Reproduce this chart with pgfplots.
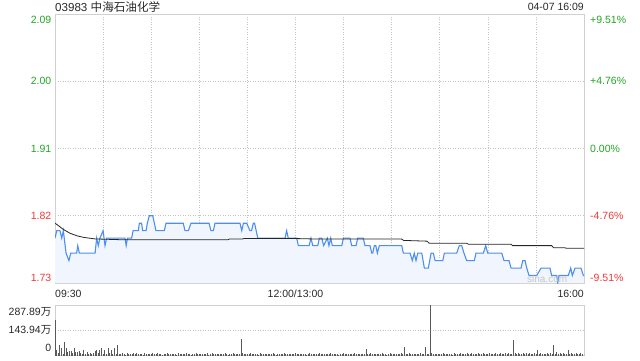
\documentclass[border=0pt]{standalone}
\usepackage{pgfplots}
\usepackage{pgfplotstable}
\pgfplotsset{compat=1.18}
\usepackage{fontspec}
\setmainfont{Liberation Sans}
\newfontfamily\cjk{Noto Sans CJK SC}
\definecolor{upgreen}{RGB}{34,165,34}
\definecolor{downred}{RGB}{240,56,56}
\definecolor{pblue}{RGB}{77,143,240}
\definecolor{pfill}{RGB}{241,246,254}
\definecolor{framegray}{RGB}{208,208,208}
\definecolor{gridgray}{RGB}{195,195,195}
\definecolor{txt}{RGB}{40,40,40}

\pgfplotstableread{
t p
0 1.79
1.1 1.80
3.1 1.80
4.2 1.79
5.2 1.80
6.9 1.77
8.7 1.76
9.8 1.77
13.5 1.77
14.2 1.78
15.2 1.77
25 1.77
26 1.79
27 1.78
28 1.79
30 1.80
31.2 1.78
32.2 1.79
43.7 1.79
44.4 1.78
45.2 1.79
47.8 1.79
48.7 1.80
52 1.80
52.6 1.81
54 1.81
54.7 1.80
56.8 1.80
57.6 1.81
58.8 1.82
61 1.82
63 1.80
68.2 1.80
69.2 1.81
80 1.81
81.1 1.80
83.2 1.80
84.8 1.81
96.1 1.81
97.3 1.80
98.8 1.80
99.8 1.81
115.4 1.81
116.5 1.80
117.5 1.81
119.6 1.81
121.6 1.80
122.6 1.80
123.7 1.81
124.5 1.81
126.5 1.79
143.5 1.79
144.5 1.80
145.5 1.79
150.8 1.79
151.8 1.78
158.5 1.78
159.7 1.79
160.8 1.78
163.9 1.78
164.9 1.79
166.4 1.79
167.6 1.78
169.9 1.79
170.9 1.78
172 1.79
173 1.78
178.9 1.78
179.9 1.79
184 1.79
185.1 1.78
187.8 1.78
188.8 1.79
192.3 1.79
193.4 1.78
196.5 1.78
197.6 1.77
198.2 1.77
199.2 1.78
200.1 1.78
201.1 1.77
202.3 1.78
216.3 1.78
217.3 1.77
221.5 1.77
222.9 1.76
224.1 1.77
225.2 1.76
226.3 1.77
228.8 1.77
230.4 1.75
232.9 1.75
234.6 1.77
236 1.77
237.1 1.76
241.9 1.76
242.9 1.77
250.6 1.77
252.2 1.78
253.7 1.78
255.1 1.77
256.8 1.76
261.6 1.76
262.6 1.77
267.2 1.77
268.7 1.78
269.9 1.77
278.7 1.77
280.1 1.76
283.2 1.76
284.5 1.75
290.7 1.75
291.8 1.76
293.2 1.76
294.3 1.75
295.7 1.74
300.5 1.74
303.2 1.75
308.8 1.75
309.8 1.74
313 1.74
313.6 1.73
314.4 1.74
320.2 1.74
321.7 1.75
322.7 1.74
324.4 1.75
328.1 1.75
329.6 1.74
330 1.74
}\pricetab

\pgfplotstableread{
t a
0 1.810
2 1.807
5 1.802
9.4 1.7965
14 1.793
18 1.791
25 1.789
40 1.788
108 1.788
109 1.789
117 1.789
118 1.7895
150 1.7895
160 1.789
216 1.789
217.5 1.787
232 1.786
233.5 1.7831
256.8 1.7831
258 1.7818
284.5 1.7818
285.5 1.780
309.8 1.780
311 1.7773
318 1.7773
319 1.7764
330 1.7764
}\avgtab

\pgfplotstableread[row sep=\\]{
v\\
204\\ 30\\ 18\\ 61\\ 44\\ 12\\ 80\\ 44\\ 20\\ 28\\
24\\ 15\\ 44\\ 22\\ 20\\ 25\\ 14\\ 10\\ 32\\ 12\\
23\\ 8\\ 14\\ 10\\ 18\\ 26\\ 32\\ 14\\ 30\\ 44\\
12\\ 32\\ 10\\ 44\\ 15\\ 32\\ 10\\ 44\\ 12\\ 61\\
12\\ 8\\ 15\\ 10\\ 6\\ 14\\ 9\\ 11\\ 7\\ 13\\
10\\ 16\\ 8\\ 12\\ 9\\ 6\\ 14\\ 10\\ 8\\ 11\\
9\\ 13\\ 7\\ 10\\ 15\\ 8\\ 12\\ 6\\ 10\\ 9\\
14\\ 8\\ 11\\ 7\\ 12\\ 10\\ 6\\ 13\\ 9\\ 8\\
11\\ 7\\ 14\\ 9\\ 10\\ 6\\ 12\\ 8\\ 15\\ 10\\
7\\ 12\\ 9\\ 11\\ 8\\ 13\\ 6\\ 10\\ 14\\ 9\\
8\\ 11\\ 7\\ 12\\ 10\\ 9\\ 15\\ 8\\ 6\\ 11\\
10\\ 13\\ 8\\ 9\\ 12\\ 7\\ 94\\ 14\\ 10\\ 8\\
11\\ 9\\ 13\\ 7\\ 10\\ 12\\ 8\\ 6\\ 14\\ 9\\
10\\ 8\\ 12\\ 7\\ 11\\ 9\\ 13\\ 10\\ 6\\ 12\\
9\\ 11\\ 8\\ 14\\ 7\\ 10\\ 12\\ 9\\ 8\\ 11\\
13\\ 8\\ 10\\ 7\\ 12\\ 9\\ 11\\ 6\\ 10\\ 14\\
8\\ 12\\ 9\\ 11\\ 7\\ 13\\ 10\\ 8\\ 12\\ 9\\
11\\ 7\\ 14\\ 10\\ 8\\ 12\\ 9\\ 6\\ 11\\ 10\\
13\\ 8\\ 10\\ 12\\ 7\\ 9\\ 11\\ 14\\ 8\\ 10\\
9\\ 12\\ 7\\ 11\\ 40\\ 10\\ 8\\ 13\\ 9\\ 11\\
7\\ 10\\ 12\\ 8\\ 14\\ 9\\ 11\\ 6\\ 10\\ 13\\
8\\ 11\\ 9\\ 12\\ 7\\ 10\\ 14\\ 8\\ 50\\ 11\\
9\\ 13\\ 7\\ 10\\ 12\\ 8\\ 11\\ 9\\ 14\\ 10\\
12\\ 50\\ 8\\ 10\\ 287.89\\ 14\\ 9\\ 11\\ 8\\ 12\\
10\\ 7\\ 13\\ 9\\ 11\\ 8\\ 12\\ 10\\ 6\\ 14\\
9\\ 11\\ 8\\ 13\\ 10\\ 12\\ 7\\ 15\\ 9\\ 11\\
14\\ 8\\ 12\\ 10\\ 16\\ 9\\ 11\\ 13\\ 8\\ 12\\
10\\ 15\\ 9\\ 12\\ 8\\ 14\\ 11\\ 10\\ 13\\ 9\\
12\\ 16\\ 10\\ 14\\ 9\\ 11\\ 91\\ 13\\ 10\\ 15\\
11\\ 9\\ 14\\ 12\\ 18\\ 10\\ 13\\ 9\\ 11\\ 16\\
12\\ 33\\ 10\\ 14\\ 9\\ 12\\ 11\\ 15\\ 10\\ 13\\
9\\ 62\\ 12\\ 22\\ 10\\ 14\\ 11\\ 13\\ 9\\ 12\\
33\\ 10\\ 14\\ 11\\ 9\\ 13\\ 12\\ 10\\ 15\\ 11\\
12\\
}\voltab

\begin{document}
\begin{tikzpicture}[x=1bp,y=1bp,every node/.style={font=\fontsize{10.5bp}{12bp}\selectfont, inner sep=0pt}]
\useasboundingbox (0,0) rectangle (640,360);
% title
\node[anchor=west, text=txt, font=\fontsize{11.6bp}{13bp}\selectfont] at (55,353) {03983 {\cjk 中海石油化学}};
\node[anchor=east, text=txt] at (584,353) {04-07 16:09};

\begin{axis}[at={(55bp,77bp)}, anchor=south west, scale only axis,
  width=529bp, height=269bp,
  xmin=0, xmax=330, ymin=1.73, ymax=2.09,
  axis line style={framegray, line width=0.8bp},
  tick style={draw=none},
  xtick={30,60,...,300}, ytick={1.82,1.91,2.00},
  xticklabels={}, yticklabels={},
  grid=major,
  major grid style={gridgray, line width=0.6bp, dash pattern=on 1bp off 1.5bp},
  clip mode=individual]
  \addplot[draw=none, fill=pfill] table[x=t, y=p] {\pricetab} \closedcycle;
  \addplot[pblue, line width=1.1bp, mark=none] table[x=t, y=p] {\pricetab};
  \addplot[black!85, line width=0.8bp, mark=none] table[x=t, y=a] {\avgtab};
  % left labels
  \node[anchor=east, text=upgreen, xshift=-3.5bp, yshift=-6bp] at (axis cs:0,2.09) {2.09};
  \node[anchor=east, text=upgreen, xshift=-3.5bp] at (axis cs:0,2.00) {2.00};
  \node[anchor=east, text=upgreen, xshift=-3.5bp] at (axis cs:0,1.91) {1.91};
  \node[anchor=east, text=downred, xshift=-3.5bp] at (axis cs:0,1.82) {1.82};
  \node[anchor=east, text=downred, xshift=-3.5bp, yshift=5bp] at (axis cs:0,1.73) {1.73};
  % right labels
  \node[anchor=west, text=upgreen, xshift=6bp, yshift=-6bp] at (axis cs:330,2.09) {+9.51\%};
  \node[anchor=west, text=upgreen, xshift=6bp] at (axis cs:330,2.00) {+4.76\%};
  \node[anchor=west, text=upgreen, xshift=6bp] at (axis cs:330,1.91) {0.00\%};
  \node[anchor=west, text=downred, xshift=6bp] at (axis cs:330,1.82) {-4.76\%};
  \node[anchor=west, text=downred, xshift=6bp, yshift=5bp] at (axis cs:330,1.73) {-9.51\%};
  % time labels
  \node[anchor=west, text=txt, yshift=-11bp] at (axis cs:0,1.73) {09:30};
  \node[anchor=center, text=txt, yshift=-11bp] at (axis cs:150,1.73) {12:00/13:00};
  \node[anchor=east, text=txt, yshift=-11bp] at (axis cs:330,1.73) {16:00};
  % watermark
  \node[anchor=center, text=black!22, font=\fontsize{10bp}{11bp}\selectfont] at (axis cs:307,1.736) {sina.com};
\end{axis}

\begin{axis}[at={(55bp,4.3bp)}, anchor=south west, scale only axis,
  width=529bp, height=50.7bp,
  xmin=0, xmax=330, ymin=0, ymax=287.89,
  axis line style={framegray, line width=0.8bp},
  tick style={draw=none},
  xtick=\empty, ytick={143.94},
  yticklabels={},
  ymajorgrids,
  major grid style={gridgray, line width=0.6bp, dash pattern=on 1bp off 1.5bp},
  clip mode=individual]
  \addplot[ycomb, draw=black!65, line width=0.8bp, mark=none] table[x expr=\coordindex, y=v] {\voltab};
  \node[anchor=east, text=txt, xshift=-3.5bp, yshift=-7bp] at (axis cs:0,287.89) {287.89{\cjk 万}};
  \node[anchor=east, text=txt, xshift=-3.5bp] at (axis cs:0,143.94) {143.94{\cjk 万}};
  \node[anchor=east, text=txt, xshift=-3.5bp, yshift=8bp] at (axis cs:0,0) {0};
\end{axis}
\end{tikzpicture}
\end{document}
